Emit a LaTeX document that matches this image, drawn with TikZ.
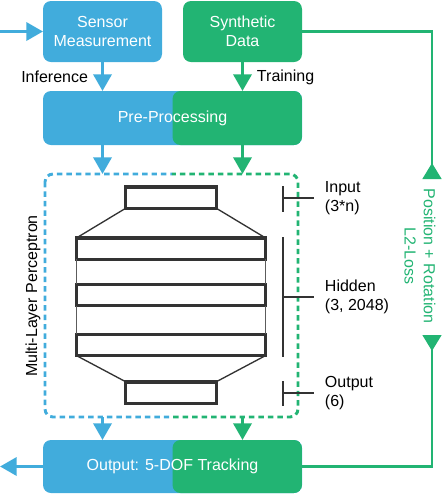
\documentclass[tikz,border=0pt]{standalone}
\usepackage{fontspec}
\setmainfont{Liberation Sans}
\usetikzlibrary{arrows.meta}
\definecolor{cblue}{HTML}{41ACDC}
\definecolor{cgreen}{HTML}{22B473}
\definecolor{cdark}{HTML}{333333}
\begin{document}
\begin{tikzpicture}[>={Triangle[width=13.5pt,length=12.5pt]}, x=0.75pt, y=-0.75pt]
\tikzstyle{every node}=[font=\fontsize{12}{14.5}\selectfont, inner sep=0pt, outer sep=0pt]
\tikzstyle{box}=[rectangle, rounded corners=6pt, text=white, align=center]
\tikzstyle{split}=[box, fill=cblue, path picture={\fill[cgreen] (path picture bounding box.north) rectangle (path picture bounding box.south east);}]
\tikzstyle{layer}=[draw=cdark, line width=2.6pt, fill=white, minimum height=16.1pt]
\tikzstyle{lbl}=[align=left, anchor=west, inner xsep=8.25pt]
\tikzstyle{brk}=[draw=cdark, line width=2pt]
\tikzstyle{dbox}=[line width=2.2pt, dash pattern=on 4.1pt off 3pt, rounded corners=6pt]
\tikzstyle{barrow}=[->, cblue, line width=2.6pt]
\tikzstyle{garrow}=[->, cgreen, line width=2.6pt]
\tikzstyle{loop}=[-{Triangle[reversed,width=14pt,length=12pt]}, cgreen, line width=2pt]
\useasboundingbox (0,0) rectangle (442,494);
% boxes
\node[box, fill=cblue, minimum width=89.25pt, minimum height=45.75pt] (sens) at (102.5,31.5) {Sensor\\Measurement};
\node[box, fill=cgreen, minimum width=89.25pt, minimum height=45.75pt] (synth) at (242.5,31.5) {Synthetic\\Data};
\node[split, minimum width=194.25pt, minimum height=40.5pt] (pre) at (172.5,118) {Pre-Processing};
\node[split, minimum width=194.25pt, minimum height=39.75pt] (out) at (172.5,466.5) {Output: 5-DOF Tracking};
\node[minimum width=189.75pt, minimum height=182.25pt] (mlp) at (171.5,295.5) {};
\node (infl) [anchor=east] at (88,77) {Inference};
\node (trl) [anchor=west] at (257,77) {Training};
% dashed frame, half blue half green
\begin{scope}
\clip (0,150) rectangle (172,430);
\draw[dbox, cblue] (mlp.north west) rectangle (mlp.south east);
\end{scope}
\begin{scope}
\clip (172,150) rectangle (310,430);
\draw[dbox, cgreen] (mlp.north west) rectangle (mlp.south east);
\end{scope}
\node[rotate=90] (mlpl) at (33,296) {Multi-Layer Perceptron};
% layers
\node[layer, minimum width=67.9pt] (lin) at (171,197.5) {};
\node[layer, minimum width=141.4pt] (h1) at (171,248.5) {};
\node[layer, minimum width=141.4pt] (h2) at (171,295) {};
\node[layer, minimum width=141.4pt] (h3) at (171,345) {};
\node[layer, minimum width=67.9pt] (lout) at (171,392.5) {};
\draw[cdark, line width=1pt] (lin.south west) -- (h1.north west);
\draw[cdark, line width=1pt] (lin.south east) -- (h1.north east);
\draw[cdark, line width=1pt] (h3.south west) -- (lout.north west);
\draw[cdark, line width=1pt] (h3.south east) -- (lout.north east);
\draw[cdark!80, line width=0.9pt] (h1.south west) -- (h2.north west);
\draw[cdark!80, line width=0.9pt] (h1.south east) -- (h2.north east);
\draw[cdark!80, line width=0.9pt] (h2.south west) -- (h3.north west);
\draw[cdark!80, line width=0.9pt] (h2.south east) -- (h3.north east);
% brackets
\node[lbl] (tin) at (314,198) {Input\\(3*n)};
\node[lbl] (thid) at (314,297) {Hidden\\(3, 2048)};
\node[lbl] (tout) at (314,393) {Output\\(6)};
\draw[brk] (283,186) -- (283,212);
\draw[brk] (283,237) -- (283,357);
\draw[brk] (283,381) -- (283,406);
\draw[brk] (tin.west -| 283,0) -- (tin.west);
\draw[brk] (thid.west -| 283,0) -- (thid.west);
\draw[brk] (tout.west -| 283,0) -- (tout.west);
% arrows
\coordinate (inp) at (0,31.5);
\coordinate (outp) at (0,466.5);
\draw[barrow] (inp) -- (sens.west);
\draw[barrow] (sens.south) -- (sens.south |- pre.north);
\draw[garrow] (synth.south) -- (synth.south |- pre.north);
\draw[barrow] (pre.south -| sens) -- (mlp.north -| sens);
\draw[garrow] (pre.south -| synth) -- (mlp.north -| synth);
\draw[barrow] (mlp.south -| sens) -- (out.north -| sens);
\draw[garrow] (mlp.south -| synth) -- (out.north -| synth);
\draw[barrow] (out.west) -- (outp);
% loss loop
\node[rotate=-90, align=center, text=cgreen] (loss) at (420,256) {Position + Rotation\\L2-Loss};
\coordinate (lup) at (432,179);
\coordinate (ldn) at (432,335);
\draw[loop] (synth.east) -| (lup);
\draw[loop] (out.east) -| (ldn);
\end{tikzpicture}
\end{document}
